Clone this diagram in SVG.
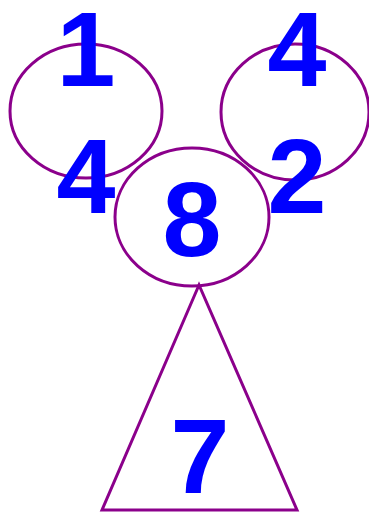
<svg xmlns="http://www.w3.org/2000/svg" width="369" height="512" viewBox="0 0 369 512">
<style>
.shape{fill:none;stroke:#8B008B;stroke-width:3}
.lbl{font-family:"Liberation Sans",Arial,sans-serif;font-weight:bold;font-size:106px;fill:#0000FF;text-anchor:middle}
</style>
<rect width="369" height="512" fill="#FFFFFF"/>
<g id="connectors"></g>
<g id="node-left">
<ellipse class="shape" cx="86" cy="111" rx="76" ry="67"/>
<text class="lbl" x="86" y="86">1</text>
<text class="lbl" x="86" y="213">4</text>
</g>
<g id="node-right">
<ellipse class="shape" cx="295" cy="112" rx="74" ry="68"/>
<text class="lbl" x="297" y="86">4</text>
<text class="lbl" x="297" y="213">2</text>
</g>
<g id="node-mid">
<ellipse class="shape" cx="192" cy="217" rx="77" ry="69"/>
<text class="lbl" x="192" y="256">8</text>
</g>
<g id="node-tri">
<polygon class="shape" points="199,285 102,510 297,510"/>
<text class="lbl" x="200" y="493">7</text>
</g>
</svg>
